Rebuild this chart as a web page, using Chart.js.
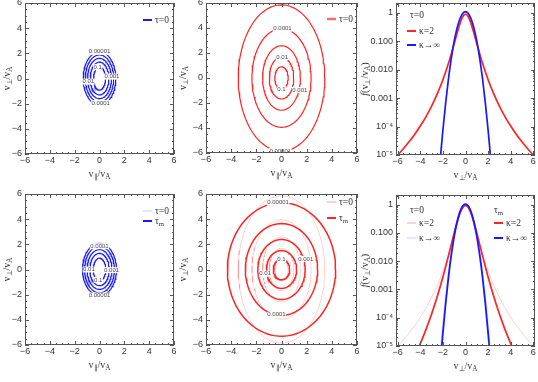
<!DOCTYPE html>
<html>
<head>
<meta charset="utf-8">
<script src="https://cdn.jsdelivr.net/npm/chart.js@4.4.1/dist/chart.umd.min.js"></script>
<style>
  html, body { margin: 0; padding: 0; background: #fff; }
  #wrap { position: relative; width: 538px; height: 382px; overflow: hidden; }
  #wrap canvas { position: absolute; left: 0; top: 0; }
</style>
</head>
<body>
<div id="wrap">
  <canvas id="p1" width="538" height="382"></canvas>
  <canvas id="p2" width="538" height="382"></canvas>
  <canvas id="p3" width="538" height="382"></canvas>
  <canvas id="p4" width="538" height="382"></canvas>
  <canvas id="p5" width="538" height="382"></canvas>
  <canvas id="p6" width="538" height="382"></canvas>
</div>
<script>
// contour levels and semi-axes (v_par, v_perp) of each contour
const levels = ['0.1', '0.01', '0.001', '0.0001', '0.00001'];
const maxTau0RadX = [0.48, 0.75, 0.96, 1.14, 1.31];
const maxTau0RadY = [0.92, 1.3, 1.6, 1.87, 2.12];
const maxTmRadX = [0.5, 0.78, 1.0, 1.2, 1.37];
const maxTmRadY = [0.9, 1.28, 1.58, 1.85, 2.07];
const kapTau0RadX = [0.53, 0.97, 1.5, 2.35, 3.44];
const kapTau0RadY = [0.9, 1.68, 2.58, 3.95, 5.85];
const kapTmRadX = [0.65, 1.2, 1.88, 2.87, 4.3];
const kapTmRadY = [0.82, 1.5, 2.38, 3.65, 5.3];

// 1D cuts f(v_perp)
const kapTau0V = [-6, -5.5, -5, -4.5, -4, -3.5, -3, -2.5, -2, -1.5, -1.25, -1, -0.75, -0.5, -0.25, 0,
                  0.25, 0.5, 0.75, 1, 1.25, 1.5, 2, 2.5, 3, 3.5, 4, 4.5, 5, 5.5, 6];
const kapTau0F = [1.0e-5, 1.65e-5, 2.9e-5, 5.3e-5, 1.04e-4, 2.2e-4, 5.2e-4, 1.4e-3, 4.4e-3, 0.0171, 0.0367, 0.082, 0.188, 0.405, 0.722, 0.9,
                  0.722, 0.405, 0.188, 0.082, 0.0367, 0.0171, 4.4e-3, 1.4e-3, 5.2e-4, 2.2e-4, 1.04e-4, 5.3e-5, 2.9e-5, 1.65e-5, 1.0e-5];
const maxTau0V = [-2.2, -2, -1.75, -1.5, -1.25, -1, -0.75, -0.5, -0.25, 0, 0.25, 0.5, 0.75, 1, 1.25, 1.5, 1.75, 2, 2.2];
const maxTau0F = [1e-5, 7.5e-5, 7.1e-4, 5.0e-3, 0.026, 0.1, 0.285, 0.604, 0.947, 1.1, 0.947, 0.604, 0.285, 0.1, 0.026, 5.0e-3, 7.1e-4, 7.5e-5, 1e-5];
const kapTmV = [-4.1, -4, -3.5, -3, -2.5, -2, -1.5, -1.25, -1, -0.75, -0.5, -0.25, 0,
                0.25, 0.5, 0.75, 1, 1.25, 1.5, 2, 2.5, 3, 3.5, 4, 4.1];
const kapTmF = [1.0e-5, 1.22e-5, 3.8e-5, 1.35e-4, 5.6e-4, 2.74e-3, 0.016, 0.0401, 0.1, 0.236, 0.486, 0.796, 0.95,
                0.796, 0.486, 0.236, 0.1, 0.0401, 0.016, 2.74e-3, 5.6e-4, 1.35e-4, 3.8e-5, 1.22e-5, 1.0e-5];
const maxTmV = [-2.1, -2, -1.75, -1.5, -1.25, -1, -0.75, -0.5, -0.25, 0, 0.25, 0.5, 0.75, 1, 1.25, 1.5, 1.75, 2, 2.1];
const maxTmF = [1e-5, 2.9e-5, 3.4e-4, 2.86e-3, 0.0174, 0.076, 0.24, 0.545, 0.891, 1.05, 0.891, 0.545, 0.24, 0.076, 0.0174, 2.86e-3, 3.4e-4, 2.9e-5, 1e-5];

// tick labels
const linTickVals = [-6, -4, -2, 0, 2, 4, 6];
const linTickText = ['−6', '−4', '−2', '0', '2', '4', '6'];
const logTickVals = [1e-5, 1e-4, 1e-3, 1e-2, 1e-1, 1];
const logTickText = ['10⁻⁵', '10⁻⁴', '0.001', '0.010', '0.100', '1'];

const W = 538, H = 382, AX_W = 40, AX_H = 20;
const RED = 'rgb(255,35,35)', BLUE = 'rgb(25,25,255)';
const PINK = 'rgba(255,40,40,0.22)', PALEBLUE = 'rgba(40,90,255,0.15)';
const FRAME = '#555', TXT = '#333';

function ellipse(rx, ry) {
  const pts = [];
  for (let i = 0; i <= 96; i++) {
    const t = i / 96 * 2 * Math.PI;
    pts.push({x: rx * Math.cos(t), y: ry * Math.sin(t)});
  }
  return pts;
}
function contours(rx, ry, color, width) {
  return rx.map((r, i) => ({data: ellipse(r, ry[i]), borderColor: color, borderWidth: width, pointRadius: 0, tension: 0}));
}
function curve(xs, ys, color, width) {
  return {data: xs.map((x, i) => ({x: x, y: ys[i]})), borderColor: color, borderWidth: width,
          pointRadius: 0, cubicInterpolationMode: 'monotone'};
}

// text with subscripts: segments [text, isSub, isItalic]
function drawRich(ctx, segs, x, y, rot, size, align) {
  ctx.save();
  ctx.translate(x, y);
  ctx.rotate(rot);
  ctx.fillStyle = TXT;
  ctx.textBaseline = 'middle';
  ctx.textAlign = 'left';
  const fontOf = s => (s[2] ? 'italic ' : '') + (s[1] ? size * 0.72 : size) + 'px "Liberation Serif", serif';
  let w = 0;
  segs.forEach(s => { ctx.font = fontOf(s); w += ctx.measureText(s[0]).width; });
  let cx = align === 'left' ? 0 : -w / 2;
  segs.forEach(s => {
    ctx.font = fontOf(s);
    ctx.fillText(s[0], cx, s[1] ? size * 0.3 : 0);
    cx += ctx.measureText(s[0]).width;
  });
  ctx.restore();
}

const titlePar = [['v'], ['∥', 1], ['/v'], ['A', 1]];
const titlePerp = [['v'], ['⊥', 1], ['/v'], ['A', 1]];
const titleF = [['f', 0, 1], ['(v'], ['⊥', 1], ['/v'], ['A', 1], [')']];
const tau0 = [['τ=0']], tauM = [['τ'], ['m', 1]];
const kap2 = [['κ=2']], kapInf = [['κ→∞']];

function drawFrame(chart, log) {
  const {ctx, chartArea: a, scales: {x, y}} = chart;
  ctx.save();
  ctx.strokeStyle = FRAME;
  ctx.lineWidth = 1;
  ctx.strokeRect(a.left + 0.5, a.top + 0.5, a.right - a.left - 1, a.bottom - a.top - 1);
  ctx.beginPath();
  for (let v = -6; v <= 6.001; v += 0.5) {
    const px = Math.round(x.getPixelForValue(v)) + 0.5;
    const len = Math.abs(v % 2) < 1e-6 ? 4 : 2;
    ctx.moveTo(px, a.bottom); ctx.lineTo(px, a.bottom - len);
    ctx.moveTo(px, a.top); ctx.lineTo(px, a.top + len);
  }
  const yt = [];
  if (log) {
    for (let d = 1e-5; d < 3; d *= 10) {
      for (let m = 1; m <= 9; m++) if (d * m <= y.max) yt.push([d * m, m === 1 ? 4 : 2]);
    }
  } else {
    for (let v = -6; v <= 6.001; v += 0.5) yt.push([v, Math.abs(v % 2) < 1e-6 ? 4 : 2]);
  }
  yt.forEach(([v, len]) => {
    const py = Math.round(y.getPixelForValue(v)) + 0.5;
    ctx.moveTo(a.left, py); ctx.lineTo(a.left + len, py);
    ctx.moveTo(a.right, py); ctx.lineTo(a.right - len, py);
  });
  ctx.stroke();
  ctx.restore();
}

function makePanel(id, p) {
  const deco = {
    id: 'deco',
    afterDatasetsDraw(chart) {
      const {ctx, scales: {x, y}} = chart;
      ctx.save();
      ctx.font = '6px "Liberation Sans", sans-serif';
      ctx.textAlign = 'center';
      ctx.textBaseline = 'middle';
      (p.labels || []).forEach(([t, vx, vy]) => {
        const px = x.getPixelForValue(vx), py = y.getPixelForValue(vy);
        const w = ctx.measureText(t).width + 1;
        ctx.fillStyle = '#fff';
        ctx.fillRect(px - w / 2, py - 3, w, 6);
        ctx.fillStyle = '#444';
        ctx.fillText(t, px, py);
      });
      ctx.restore();
      drawFrame(chart, p.log);
    },
    afterDraw(chart) {
      const {ctx} = chart;
      const a = p.area;
      drawRich(ctx, p.xTitle, (a[0] + a[2]) / 2, a[3] + 20, 0, 10);
      drawRich(ctx, p.yTitle, p.yTitleX, (a[1] + a[3]) / 2, -Math.PI / 2, 10);
      (p.legend || []).forEach(it => {
        if (it.line) {
          ctx.save();
          ctx.strokeStyle = it.line;
          ctx.lineWidth = it.lw || 2;
          ctx.beginPath();
          ctx.moveTo(it.x, it.y); ctx.lineTo(it.x + 9, it.y);
          ctx.stroke();
          ctx.restore();
          drawRich(ctx, it.text, it.x + 12, it.y, 0, 9.5, 'left');
        } else {
          drawRich(ctx, it.text, it.x, it.y, 0, 9.5, 'left');
        }
      });
    }
  };
  const tickFont = {family: '"Liberation Sans", sans-serif', size: 9};
  const a = p.area;
  const grid = {display: false, drawTicks: false};
  return new Chart(document.getElementById(id), {
    type: 'line',
    data: {datasets: p.datasets},
    options: {
      responsive: false,
      animation: false,
      events: [],
      devicePixelRatio: 1,
      layout: {padding: {left: a[0] - AX_W, top: a[1], right: W - a[2], bottom: H - a[3] - AX_H}},
      plugins: {legend: {display: false}, tooltip: {enabled: false}},
      scales: {
        x: {
          type: 'linear', min: p.xr[0], max: p.xr[1],
          grid: grid, border: {display: false},
          afterBuildTicks: s => { s.ticks = linTickVals.map(v => ({value: v})); },
          afterFit: s => { s.height = AX_H; s.paddingLeft = 0; s.paddingRight = 0; },
          ticks: {font: tickFont, color: TXT, padding: 1, maxRotation: 0, autoSkip: false,
                  callback: (v, i) => linTickText[i]}
        },
        y: p.log ? {
          type: 'logarithmic', min: 1e-5, max: 2.2,
          grid: grid, border: {display: false},
          afterBuildTicks: s => { s.ticks = logTickVals.map(v => ({value: v})); },
          afterFit: s => { s.width = AX_W; s.paddingTop = 0; s.paddingBottom = 0; },
          ticks: {font: tickFont, color: TXT, padding: 3, autoSkip: false,
                  callback: (v, i) => logTickText[i]}
        } : {
          type: 'linear', min: -6, max: 6,
          grid: grid, border: {display: false},
          afterBuildTicks: s => { s.ticks = linTickVals.map(v => ({value: v})); },
          afterFit: s => { s.width = AX_W; s.paddingTop = 0; s.paddingBottom = 0; },
          ticks: {font: tickFont, color: TXT, padding: 3, autoSkip: false,
                  callback: (v, i) => linTickText[i]}
        }
      }
    },
    plugins: [deco]
  });
}

makePanel('p1', {
  area: [25, 3, 174, 154], xr: [-6, 6], xTitle: titlePar, yTitle: titlePerp, yTitleX: 7,
  datasets: contours(maxTau0RadX, maxTau0RadY, BLUE, 1.2),
  labels: [[levels[4], 0, 2.12], [levels[0], -0.15, 0.9], [levels[1], -0.9, -0.25], [levels[2], 1.0, 0.15], [levels[3], 0.1, -1.95]],
  legend: [{line: BLUE, x: 143, y: 20, text: tau0}]
});
makePanel('p2', {
  area: [206, 3, 357, 153], xr: [-6, 6], xTitle: titlePar, yTitle: titlePerp, yTitleX: 183,
  datasets: contours(kapTau0RadX, kapTau0RadY, RED, 1.2),
  labels: [[levels[3], 0.08, 3.95], [levels[1], 0.05, 1.65], [levels[0], 0, -0.9], [levels[2], 1.46, -0.95], [levels[4], -0.1, -5.85]],
  legend: [{line: 'rgb(255,110,110)', lw: 2.5, x: 327, y: 19, text: tau0}]
});
makePanel('p3', {
  area: [396, 3, 535, 155], xr: [-6.15, 6.15], log: true, xTitle: titlePerp, yTitle: titleF, yTitleX: 365,
  datasets: [curve(maxTau0V, maxTau0F, BLUE, 1.7), curve(kapTau0V, kapTau0F, RED, 1.7)],
  legend: [{x: 410, y: 15, text: tau0}, {line: RED, x: 407, y: 31, text: kap2}, {line: BLUE, x: 407, y: 45, text: kapInf}]
});
makePanel('p4', {
  area: [25, 194, 174, 345], xr: [-6, 6], xTitle: titlePar, yTitle: titlePerp, yTitleX: 7,
  datasets: contours(maxTmRadX, maxTmRadY, BLUE, 1.2).concat(contours(maxTau0RadX, maxTau0RadY, PALEBLUE, 1)),
  labels: [[levels[3], 0, 1.85], [levels[1], -0.85, 0], [levels[2], 0.97, -0.05], [levels[0], -0.1, -0.83], [levels[4], 0, -2.07]],
  legend: [{line: PALEBLUE, x: 143, y: 211, text: tau0}, {line: BLUE, x: 143, y: 221, text: tauM}]
});
makePanel('p5', {
  area: [206, 194, 357, 345], xr: [-6, 6], xTitle: titlePar, yTitle: titlePerp, yTitleX: 183,
  datasets: contours(kapTmRadX, kapTmRadY, RED, 1.5).concat(contours(kapTau0RadX, kapTau0RadY, PINK, 1)),
  labels: [[levels[4], -0.27, 5.3], [levels[0], 0, 0.84], [levels[2], 1.93, 0.84], [levels[1], -1.3, -0.33], [levels[3], -0.4, -3.6]],
  legend: [{line: PINK, x: 327, y: 202, text: tau0}, {line: RED, x: 327, y: 218, text: tauM}]
});
makePanel('p6', {
  area: [396, 195, 535, 346], xr: [-6.15, 6.15], log: true, xTitle: titlePerp, yTitle: titleF, yTitleX: 365,
  datasets: [curve(maxTmV, maxTmF, BLUE, 1.8), curve(kapTmV, kapTmF, RED, 1.7),
             curve(maxTau0V, maxTau0F, PALEBLUE, 1), curve(kapTau0V, kapTau0F, PINK, 1)],
  legend: [{x: 410, y: 210, text: tau0}, {line: PINK, x: 407, y: 223, text: kap2}, {line: PALEBLUE, x: 407, y: 238, text: kapInf},
           {x: 494, y: 210, text: tauM}, {line: RED, x: 494, y: 223, text: kap2}, {line: BLUE, x: 494, y: 238, text: kapInf}]
});
</script>
</body>
</html>
